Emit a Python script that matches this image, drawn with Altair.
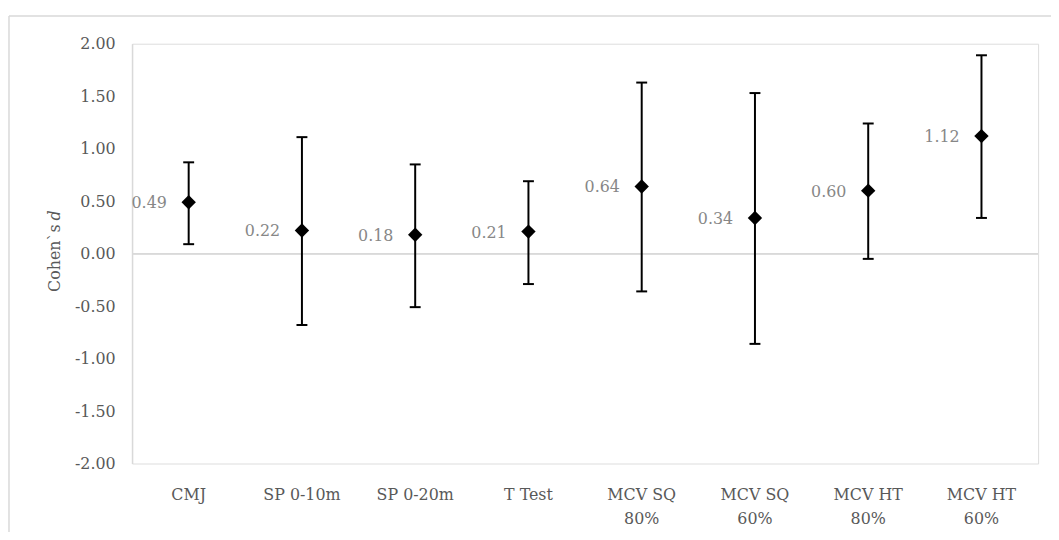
import altair as alt
import pandas as pd

categories = ["CMJ", "SP 0-10m", "SP 0-20m", "T Test",
              "MCV SQ 80%", "MCV SQ 60%", "MCV HT 80%", "MCV HT 60%"]
effect = [0.49, 0.22, 0.18, 0.21, 0.64, 0.34, 0.60, 1.12]
ci_low = [0.09, -0.68, -0.51, -0.29, -0.36, -0.86, -0.05, 0.34]
ci_high = [0.87, 1.11, 0.85, 0.69, 1.63, 1.53, 1.24, 1.89]
y_ticks = [-2.0, -1.5, -1.0, -0.5, 0.0, 0.5, 1.0, 1.5, 2.0]

df = pd.DataFrame({"cat": categories, "d": effect, "lo": ci_low, "hi": ci_high})

FONT = "DejaVu Serif"
GRID = "#d9d9d9"

x_enc = alt.X(
    "cat:N", sort=categories,
    axis=alt.Axis(
        title=None, domain=False, ticks=False, labelAngle=0,
        labelFont=FONT, labelFontSize=16, labelColor="#595959",
        labelPadding=23, labelLineHeight=24, labelLimit=300,
        labelExpr="length(datum.label) > 9 ? [slice(datum.label, 0, 6), slice(datum.label, 7)] : datum.label",
    ),
)
y_scale = alt.Scale(domain=[-2, 2], nice=False, zero=False)
y_axis = alt.Axis(
    title=None, values=y_ticks, grid=False, ticks=False,
    labelExpr="replace(format(datum.value, '.2f'), '\u2212', '-')",
    domainColor=GRID, domainWidth=1.5,
    labelFont=FONT, labelFontSize=16, labelColor="#595959", labelPadding=17,
)

base = alt.Chart(df)

zero = base.mark_rule(color=GRID, strokeWidth=1.5).encode(
    y=alt.datum(0, scale=y_scale), x=alt.value(0), x2=alt.value(913)
)

bars = base.mark_rule(color="black", strokeWidth=2).encode(
    x=x_enc,
    y=alt.Y("lo:Q", scale=y_scale, axis=y_axis),
    y2="hi:Q",
)
cap_lo = base.mark_tick(color="black", thickness=2, size=11, orient="horizontal", opacity=1).encode(
    x=x_enc, y=alt.Y("lo:Q", scale=y_scale, axis=y_axis)
)
cap_hi = base.mark_tick(color="black", thickness=2, size=11, orient="horizontal", opacity=1).encode(
    x=x_enc, y=alt.Y("hi:Q", scale=y_scale, axis=y_axis)
)
points = base.mark_point(shape="diamond", filled=True, size=210, color="black", opacity=1).encode(
    x=x_enc, y=alt.Y("d:Q", scale=y_scale, axis=y_axis)
)
labels = base.mark_text(align="right", baseline="middle", dx=-22, dy=1,
                        font=FONT, fontSize=16, color="#878787").encode(
    x=x_enc, y=alt.Y("d:Q", scale=y_scale, axis=y_axis),
    text=alt.Text("d:Q", format=".2f"),
)

one = pd.DataFrame({"t": [0]})
title_a = alt.Chart(one).mark_text(angle=270, align="right", baseline="middle",
                                   font=FONT, fontSize=16, color="#595959").encode(
    x=alt.value(-78), y=alt.value(182), text=alt.value("Cohen`s")
)
title_b = alt.Chart(one).mark_text(angle=270, align="left", baseline="middle",
                                   font=FONT, fontSize=16, fontStyle="italic",
                                   color="#595959").encode(
    x=alt.value(-78), y=alt.value(178), text=alt.value("d")
)
border_top = alt.Chart(one).mark_rule(color=GRID, strokeWidth=1.5).encode(
    x=alt.value(-124), x2=alt.value(1000), y=alt.value(-28)
)
border_left = alt.Chart(one).mark_rule(color=GRID, strokeWidth=1.5).encode(
    x=alt.value(-124), y=alt.value(-28), y2=alt.value(600)
)

chart = alt.layer(
    border_top, border_left, zero, bars, cap_lo, cap_hi, points, labels, title_a, title_b
).properties(
    width=913, height=423,
    autosize=alt.AutoSizeParams(type="none"),
    padding={"left": 125, "top": 34, "right": 13, "bottom": 67},
).configure_view(stroke=None).configure(background="white")

chart.save("out.html", embed_options={"renderer": "svg", "actions": False})
